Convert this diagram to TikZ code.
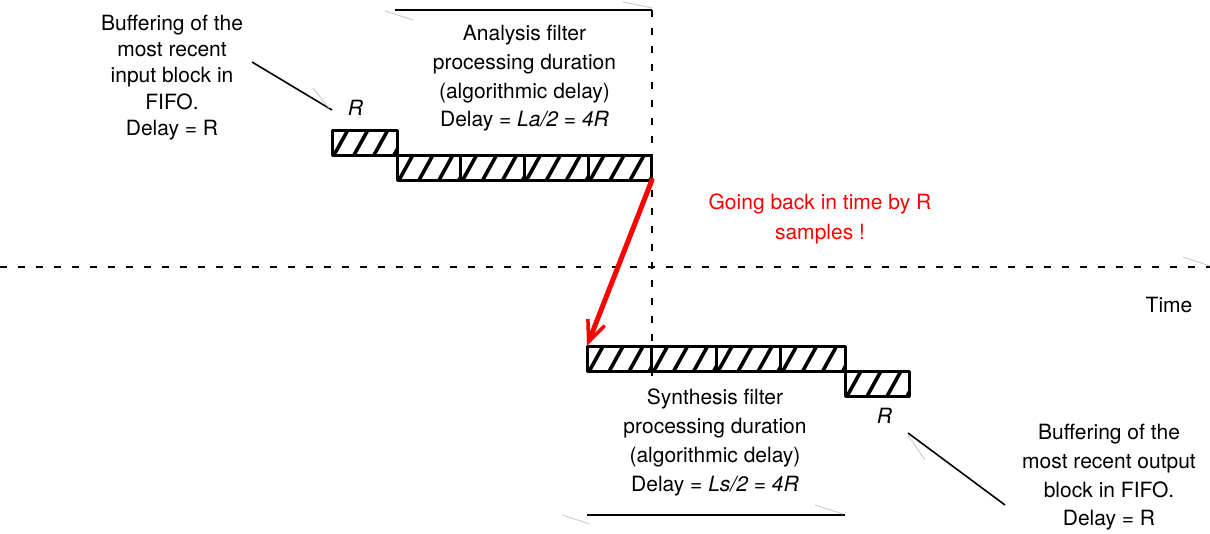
\documentclass[tikz,border=0pt]{standalone}
\usepackage{fontspec}
\setmainfont{TeX Gyre Heros}
\usetikzlibrary{arrows.meta}

\begin{document}
\begin{tikzpicture}[x=1pt,y=-1pt,
  txt/.style={inner sep=0pt, outer sep=0pt, align=center, anchor=north},
  cellbox/.style={draw, line width=3pt, line join=round, inner sep=0pt, outer sep=0pt,
    minimum width=#1, minimum height=25.5pt,
    path picture={
      \foreach \k in {-1,0,1,2,3}{
        \draw[line width=3.6pt]
          ([xshift={2pt+20pt*\k}]path picture bounding box.south west) -- ++(15,-27);
      }
    }},
  cellbox/.default=64,
  dashline/.style={line width=2pt, dash pattern=on 7pt off 11pt},
  leader/.style={line width=1.6pt},
  ghost/.style={line width=0.8pt, gray!45},
  rlabel/.style={anchor=base, inner sep=0pt, font=\fontsize{21}{25}\selectfont\itshape}
]
\useasboundingbox (0,0) rectangle (1210,533);
\fill[white] (0,0) rectangle (1210,533);

% time axis and timing guides
\coordinate (hl) at (0,267);
\coordinate (hr) at (1210,267);
\draw[dashline] (hl) -- (hr);

\coordinate (ta) at (395,10);
\coordinate (tb) at (652,10);
\coordinate (vb) at (652,376);
\draw[line width=2pt] (ta) -- (tb);
\draw[dashline] (tb) -- (vb);

\coordinate (ba) at (587,515);
\coordinate (bb) at (845,515);
\draw[line width=2pt] (ba) -- (bb);

% input FIFO block and analysis filter blocks
\node[cellbox=65, minimum height=25pt] (rin) at (364.5,142.5) {};
\node[cellbox=63.75, minimum height=25pt] (a1) at (428.9,167.5) {};
\node[cellbox=63.75, minimum height=25pt] (a2) at (492.6,167.5) {};
\node[cellbox=63.75, minimum height=25pt] (a3) at (556.4,167.5) {};
\node[cellbox=63.75, minimum height=25pt] (a4) at (620.1,167.5) {};

% synthesis filter blocks and output FIFO block
\node[cellbox=64.5] (s1) at (619.25,358.75) {};
\node[cellbox=64.5] (s2) at (683.75,358.75) {};
\node[cellbox=64.5] (s3) at (748.25,358.75) {};
\node[cellbox=64.5] (s4) at (812.75,358.75) {};
\node[cellbox=64, minimum height=24.5pt] (rout) at (877,384) {};

% block size labels
\node[rlabel] (rtop) at (355.5,115) {R};
\node[rlabel] (rbot) at (884.5,423) {R};

% explanatory texts
\node[txt, font=\fontsize{21}{26.3}\selectfont] (inbuf) at (172,14.9)
  {Buffering of the\\most recent\\input block in\\FIFO.\\Delay = R};
\node[txt, font=\fontsize{21}{28.7}\selectfont] (anal) at (524.5,25.5)
  {Analysis filter\\processing duration\\(algorithmic delay)\\Delay = \textit{La/2 = 4R}};
\node[txt, font=\fontsize{21}{28.9}\selectfont] (synth) at (715,388.9)
  {Synthesis filter\\processing duration\\(algorithmic delay)\\Delay = \textit{Ls/2 = 4R}};
\node[txt, font=\fontsize{21}{28.8}\selectfont] (outbuf) at (1109,424.2)
  {Buffering of the\\most recent output\\block in FIFO.\\Delay = R};
\node[txt, red, font=\fontsize{21}{30}\selectfont] (back) at (820,193.7)
  {Going back in time by R\\samples !};
\node[anchor=base, inner sep=0pt, font=\fontsize{21}{25}\selectfont] (time) at (1169,312) {Time};

% leader lines from the FIFO notes
\coordinate (l1) at (252,62);
\coordinate (l2) at (332,110);
\draw[leader] (l1) -- (l2);
\coordinate (l3) at (908,433);
\coordinate (l4) at (1005,505);
\draw[leader] (l3) -- (l4);

% faint tick strokes
\draw[ghost] (313,88) -- (329,108);
\draw[ghost] (908,435) -- (925,460);
\draw[ghost] (385,11) -- (413,20);
\draw[ghost] (623,2) -- (652,8);
\draw[ghost] (1183,257) -- (1210,266);
\draw[ghost] (562,515) -- (590,524);
\draw[ghost] (815,505) -- (843,514);

% jump back from analysis end to synthesis start
\draw[red, line width=5pt, line cap=round,
  -{Straight Barb[length=21pt, width=18pt, line width=3.5pt]}]
  (a4.south east) -- (s1.north west);
\end{tikzpicture}
\end{document}
